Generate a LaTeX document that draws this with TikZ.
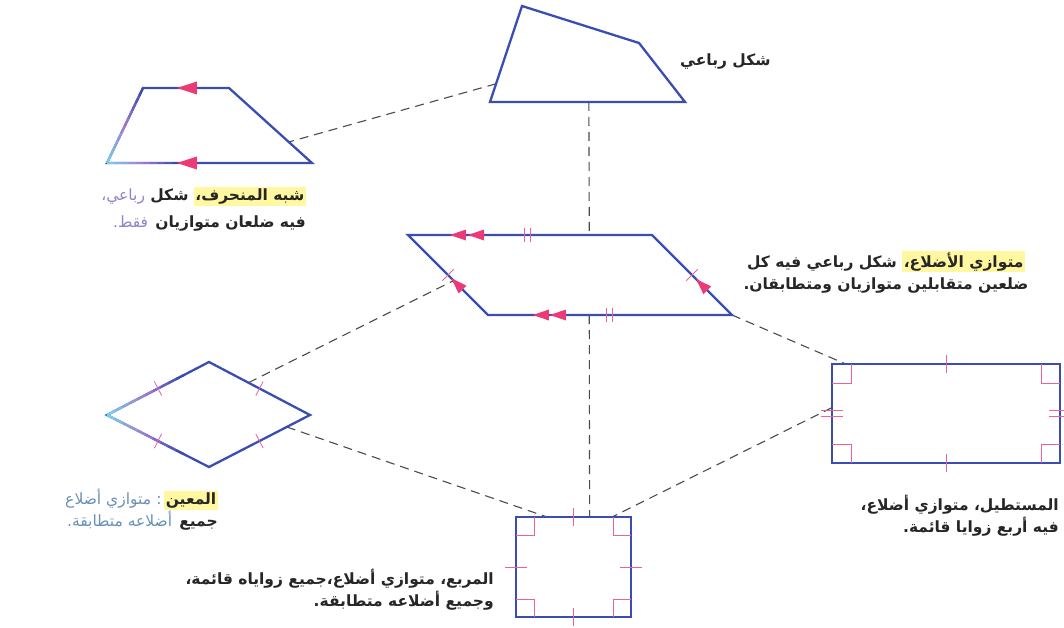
\documentclass[tikz,border=0pt]{standalone}
\usepackage{fontspec}
\setmainfont{DejaVu Sans}
\newfontfamily\arfont[Script=Arabic]{DejaVu Sans}
\TeXXeTstate=1
\usetikzlibrary{calc,decorations.markings}
\definecolor{shapeblue}{RGB}{58,78,178}
\definecolor{edgecyan}{RGB}{120,205,235}
\definecolor{lilac}{RGB}{165,120,210}
\definecolor{mkpink}{RGB}{236,58,118}
\definecolor{tkpink}{RGB}{232,100,150}
\definecolor{dashgray}{RGB}{75,75,75}
\definecolor{hlyellow}{RGB}{255,248,160}
\definecolor{txtdark}{RGB}{38,38,38}
\definecolor{txtlav}{RGB}{140,135,200}
\definecolor{txtblue}{RGB}{105,145,185}
\newcommand{\RL}[1]{\beginR#1\endR}
\newcommand{\cw}[2]{{\mdseries\color{#1}\beginR#2\endR}}
\newcommand{\hlt}[1]{{\setlength{\fboxsep}{1.5pt}\colorbox{hlyellow}{\beginR#1\endR}}}
\newcommand{\gradseg}[3]{%
  \foreach \i in {0,...,9}{%
    \pgfmathsetmacro\a{#3*\i/10}%
    \pgfmathsetmacro\b{#3*(\i+1)/10+0.004}%
    \pgfmathtruncatemacro\p{\i*100/9}%
    \ifnum\p<50 \pgfmathtruncatemacro\q{2*\p}\def\gc{lilac!\q!edgecyan}%
    \else \pgfmathtruncatemacro\q{2*\p-100}\def\gc{shapeblue!\q!lilac}\fi
    \draw[gline,color=\gc] ($(#1)!\a!(#2)$) -- ($(#1)!\b!(#2)$);
  }}
\tikzset{
  shp/.style={draw=shapeblue,line width=2.3pt,line join=miter},
  gline/.style={line width=2.3pt},
  dcon/.style={draw=dashgray,line width=1.1pt,dash pattern=on 9pt off 6pt},
  tkl/.style={draw=tkpink,line width=0.8pt},
  lbl/.style={inner sep=0pt,text=txtdark,font=\fontsize{15.5}{22}\selectfont\arfont\bfseries},
  tkat/.style={postaction={decorate,decoration={markings,
    mark=at position #1 with {\draw[tkl] (0,-8pt) -- (0,8pt);}}}},
  dtkat/.style={postaction={decorate,decoration={markings,
    mark=at position #1 with {\draw[tkl] (-3pt,-7pt) -- (-3pt,7pt) (3pt,-7pt) -- (3pt,7pt);}}}},
  arwat/.style={postaction={decorate,decoration={markings,
    mark=at position #1 with {\fill[mkpink] (0,0) -- (-16pt,5.5pt) -- (-16pt,-5.5pt) -- cycle;}}}},
  bigarwat/.style={postaction={decorate,decoration={markings,
    mark=at position #1 with {\fill[mkpink] (0,0) -- (-20pt,6.5pt) -- (-20pt,-6.5pt) -- cycle;}}}}
}
\begin{document}
\begin{tikzpicture}[x=1pt,y=-1pt]
\useasboundingbox[fill=white] (0,0) rectangle (1064,628);
% vertices
\coordinate (q1) at (522,6);   \coordinate (q2) at (639,43);
\coordinate (q3) at (685,102); \coordinate (q4) at (490,102);
\coordinate (t1) at (143,88);  \coordinate (t2) at (229,88);
\coordinate (t3) at (312,163); \coordinate (t4) at (107,163);
\coordinate (p1) at (408,235); \coordinate (p2) at (652,235);
\coordinate (p3) at (732,315); \coordinate (p4) at (488,315);
\coordinate (r1) at (209,362); \coordinate (r2) at (310,415);
\coordinate (r3) at (209,467); \coordinate (r4) at (107,415);
\coordinate (re1) at (832,364); \coordinate (re2) at (1060,364);
\coordinate (re3) at (1060,463); \coordinate (re4) at (832,463);
\coordinate (s1) at (516,517); \coordinate (s2) at (631,517);
\coordinate (s3) at (631,617); \coordinate (s4) at (516,617);
% connector ends
\coordinate (qL) at ($(q1)!0.81!(q4)$);
\coordinate (tR) at ($(t2)!0.72!(t3)$);
\coordinate (qB) at ($(q4)!0.507!(q3)$);
\coordinate (pT) at ($(p1)!0.743!(p2)$);
\coordinate (pB) at ($(p4)!0.415!(p3)$);
\coordinate (sT) at ($(s1)!0.64!(s2)$);
\coordinate (rUR) at ($(r1)!0.39!(r2)$);
\coordinate (pL) at ($(p1)!0.57!(p4)$);
\coordinate (rLR) at ($(r2)!0.23!(r3)$);
\coordinate (sTL) at ($(s1)!0.27!(s2)$);
\coordinate (reT) at ($(re1)!0.06!(re2)$);
\coordinate (reL) at ($(re1)!0.44!(re4)$);
\coordinate (sTR) at ($(s1)!0.835!(s2)$);
% dashed connectors
\draw[dcon] (qL) -- (tR);
\draw[dcon] (qB) -- (pT);
\draw[dcon] (pB) -- (sT);
\draw[dcon] (rUR) -- (pL);
\draw[dcon] (rLR) -- (sTL);
\draw[dcon] (p3) -- (reT);
\draw[dcon] (reL) -- (sTR);
% quadrilateral
\draw[shp] (q1) -- (q2) -- (q3) -- (q4) -- cycle;
% trapezoid
\draw[shp] (t1) -- (t2) -- (t3) -- (t4) -- cycle;
\gradseg{t4}{t1}{1}
\gradseg{t4}{t3}{0.35}
\path[bigarwat=0.605] (t2) -- (t1);
\path[bigarwat=0.659] (t3) -- (t4);
% parallelogram
\draw[shp] (p1) -- (p2) -- (p3) -- (p4) -- cycle;
\path[arwat=0.828,arwat=0.754] (p2) -- (p1);
\path[arwat=0.816,arwat=0.746] (p3) -- (p4);
\path[arwat=0.46] (p4) -- (p1);
\path[arwat=0.45] (p3) -- (p2);
\path[dtkat=0.488] (p1) -- (p2);
\path[dtkat=0.496] (p4) -- (p3);
\path[tkat=0.5] (p1) -- (p4);
\path[tkat=0.5] (p2) -- (p3);
% rhombus
\draw[shp] (r1) -- (r2) -- (r3) -- (r4) -- cycle;
\gradseg{r4}{r1}{0.75}
\gradseg{r4}{r3}{0.75}
\path[tkat=0.5] (r1) -- (r2);
\path[tkat=0.5] (r2) -- (r3);
\path[tkat=0.5] (r3) -- (r4);
\path[tkat=0.5] (r4) -- (r1);
% rectangle
\draw[shp] (re1) rectangle (re3);
\coordinate (reTm) at ($(re1)!0.5!(re2)$);
\coordinate (reBm) at ($(re4)!0.5!(re3)$);
\coordinate (reLm) at ($(re1)!0.5!(re4)$);
\coordinate (reRm) at ($(re2)!0.5!(re3)$);
\draw[tkl] ($(reTm)+(0,-9)$) -- ($(reTm)+(0,9)$);
\draw[tkl] ($(reBm)+(0,-9)$) -- ($(reBm)+(0,9)$);
\draw[tkl] ($(reLm)+(-11,-3)$) -- ($(reLm)+(11,-3)$) ($(reLm)+(-11,3)$) -- ($(reLm)+(11,3)$);
\draw[tkl] ($(reRm)+(-11,-3)$) -- ($(reRm)+(11,-3)$) ($(reRm)+(-11,3)$) -- ($(reRm)+(11,3)$);
\draw[tkl] ($(re1)+(0,19)$) -| ($(re1)+(19,0)$);
\draw[tkl] ($(re2)+(0,19)$) -| ($(re2)+(-19,0)$);
\draw[tkl] ($(re3)+(0,-19)$) -| ($(re3)+(-19,0)$);
\draw[tkl] ($(re4)+(0,-19)$) -| ($(re4)+(19,0)$);
% square
\draw[shp] (s1) rectangle (s3);
\coordinate (sTm) at ($(s1)!0.5!(s2)$);
\coordinate (sBm) at ($(s4)!0.5!(s3)$);
\coordinate (sLm) at ($(s1)!0.5!(s4)$);
\coordinate (sRm) at ($(s2)!0.5!(s3)$);
\draw[tkl] ($(sTm)+(0,-9)$) -- ($(sTm)+(0,9)$);
\draw[tkl] ($(sBm)+(0,-9)$) -- ($(sBm)+(0,9)$);
\draw[tkl] ($(sLm)+(-11,0)$) -- ($(sLm)+(11,0)$);
\draw[tkl] ($(sRm)+(-11,0)$) -- ($(sRm)+(11,0)$);
\draw[tkl] ($(s1)+(0,18)$) -| ($(s1)+(18,0)$);
\draw[tkl] ($(s2)+(0,18)$) -| ($(s2)+(-18,0)$);
\draw[tkl] ($(s3)+(0,-18)$) -| ($(s3)+(-18,0)$);
\draw[tkl] ($(s4)+(0,-18)$) -| ($(s4)+(18,0)$);
% labels (segments written left to right, each segment right-to-left)
\node[lbl,anchor=west] (qlab) at (680,62) {\RL{شكل رباعي}};
\node[lbl,anchor=north east,align=right,font=\fontsize{15.5}{27}\selectfont\arfont\bfseries] (tlab) at (306,187)
  {\cw{txtlav}{رباعي،} \RL{شكل} \hlt{شبه المنحرف،}\\\cw{txtlav}{فقط.} \RL{فيه ضلعان متوازيان}};
\node[lbl,anchor=center,align=center] (plab) at (886,272)
  {\RL{شكل رباعي فيه كل} \hlt{متوازي الأضلاع،}\\\RL{ضلعين متقابلين متوازيان ومتطابقان.}};
\node[lbl,anchor=north east,align=right] (rlab) at (218,489)
  {\cw{txtblue}{متوازي أضلاع} \cw{txtblue}{:}\,\hlt{المعين}\\\cw{txtblue}{أضلاعه متطابقة.} \RL{جميع}};
\node[lbl,anchor=north east,align=right] (relab) at (1059,495)
  {\RL{المستطيل، متوازي أضلاع،}\\\RL{فيه أربع زوايا قائمة.}};
\node[lbl,anchor=north east,align=right] (slab) at (494,569)
  {\RL{المربع، متوازي أضلاع،جميع زواياه قائمة،}\\\RL{وجميع أضلاعه متطابقة.}};
\end{tikzpicture}
\end{document}
